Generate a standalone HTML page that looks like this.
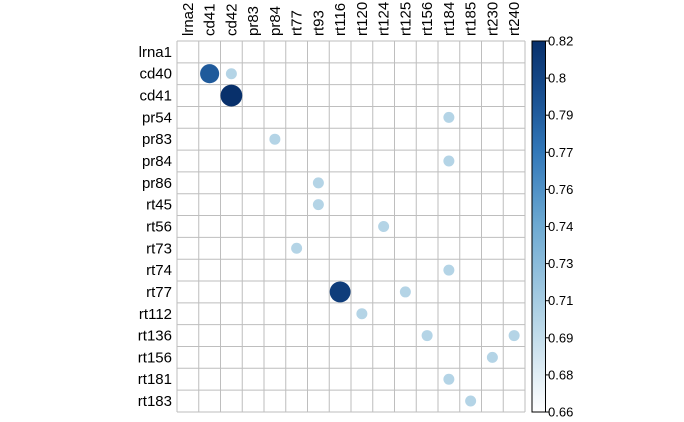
<!DOCTYPE html>
<html><head><meta charset="utf-8"><style>
body{margin:0;background:#fff;}
svg{display:block;font-family:"Liberation Sans",sans-serif;}
</style></head><body>
<svg id="chart" width="684" height="422"></svg>
<script>
const rowsLab=["lrna1","cd40","cd41","pr54","pr83","pr84","pr86","rt45","rt56","rt73","rt74","rt77","rt112","rt136","rt156","rt181","rt183"];
const colsLab=["lrna2","cd41","cd42","pr83","pr84","rt77","rt93","rt116","rt120","rt124","rt125","rt156","rt184","rt185","rt230","rt240"];
const pairRow=["cd40","cd40","cd41","pr54","pr83","pr84","pr86","rt45","rt56","rt73","rt74","rt77","rt77","rt112","rt136","rt136","rt156","rt181","rt183"];
const pairCol=["cd41","cd42","cd42","rt184","pr84","rt184","rt93","rt93","rt124","rt77","rt184","rt116","rt125","rt120","rt156","rt240","rt230","rt184","rt185"];
const pairVal=[0.79,0.70,0.82,0.70,0.70,0.70,0.70,0.70,0.70,0.70,0.70,0.81,0.70,0.70,0.70,0.70,0.70,0.70,0.70];
const tickLabels=["0.66","0.68","0.69","0.71","0.73","0.74","0.76","0.77","0.79","0.8","0.82"];
const vmin=0.66,vmax=0.82;
const NS="http://www.w3.org/2000/svg";
const svg=document.getElementById('chart');
const X0=177,Y0=41,CW=21.75,CH=21.82;
function xc(i){return X0+CW*(i+0.5);}
function yc(j){return Y0+CH*(j+0.5);}
const stops=[[0,[255,255,255]],[0.25,[180,212,230]],[0.5,[110,170,210]],[0.7,[50,120,185]],[0.85,[25,80,145]],[1,[8,48,107]]];
function color(v){let t=(v-vmin)/(vmax-vmin);t=Math.max(0,Math.min(1,t));
for(let k=1;k<stops.length;k++){if(t<=stops[k][0]){const a=stops[k-1],b=stops[k];const f=(t-a[0])/(b[0]-a[0]);
return 'rgb('+a[1].map((c,i)=>Math.round(c+(b[1][i]-c)*f)).join(',')+')';}}return 'rgb(8,48,107)';}
function mk(tag,attrs){const e=document.createElementNS(NS,tag);for(const k in attrs)e.setAttribute(k,attrs[k]);svg.appendChild(e);return e;}
for(let i=0;i<=colsLab.length;i++){const l=mk('line',{x1:X0+CW*i,x2:X0+CW*i,y1:Y0,y2:Y0+CH*rowsLab.length,stroke:'#bebebe','stroke-width':1});

}
for(let j=0;j<=rowsLab.length;j++){const l=mk('line',{x1:X0,x2:X0+CW*colsLab.length,y1:Y0+CH*j,y2:Y0+CH*j,stroke:'#bebebe','stroke-width':1});

}
rowsLab.forEach((r,j)=>{const t=mk('text',{x:172,y:yc(j)+5,'text-anchor':'end','font-size':15});t.textContent=r;

});
colsLab.forEach((c,i)=>{const t=mk('text',{x:0,y:0,'font-size':15,transform:'translate('+(xc(i)+5)+',36) rotate(-90)'});t.textContent=c;

});
pairVal.forEach((v,k)=>{const i=colsLab.indexOf(pairCol[k]),j=rowsLab.indexOf(pairRow[k]);
const r=5.5+(v-0.70)*45;
const c=mk('circle',{cx:xc(i),cy:yc(j),r:r,fill:color(v)});

});
const defs=mk('defs',{});const g=document.createElementNS(NS,'linearGradient');g.setAttribute('id','cb');g.setAttribute('x1','0');g.setAttribute('y1','1');g.setAttribute('x2','0');g.setAttribute('y2','0');defs.appendChild(g);
for(let k=0;k<=20;k++){const s=document.createElementNS(NS,'stop');s.setAttribute('offset',k/20);s.setAttribute('stop-color',color(vmin+(vmax-vmin)*k/20));g.appendChild(s);}
const CBT=41,CBB=412;
const cb=mk('rect',{x:532,y:CBT,width:13.5,height:CBB-CBT,fill:'url(#cb)',stroke:'#000','stroke-width':1});


tickLabels.forEach((lab,k)=>{const y=CBB-(CBB-CBT)*k/(tickLabels.length-1);
const l=mk('line',{x1:545.5,x2:549,y1:y,y2:y,stroke:'#000'});


const t=mk('text',{x:548,y:y+4.5,'font-size':13});t.textContent=lab;

});
</script>
</body></html>
